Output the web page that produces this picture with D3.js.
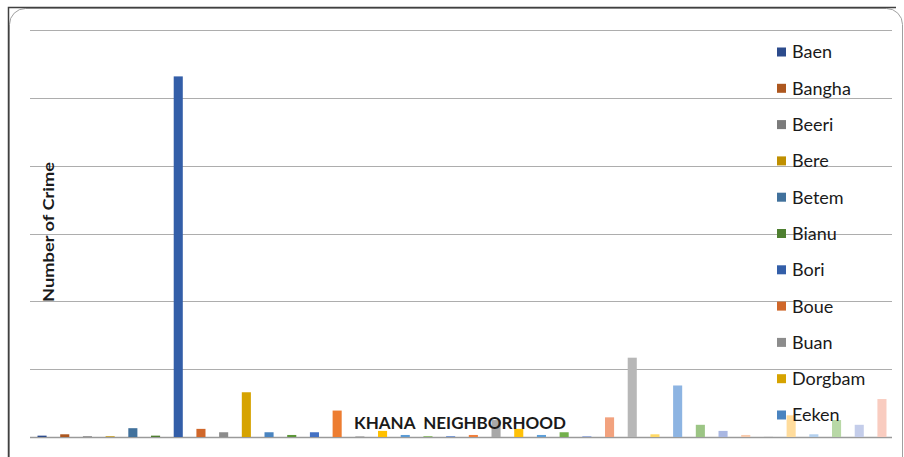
<!DOCTYPE html>
<html>
<head>
<meta charset="utf-8">
<script src="https://cdn.jsdelivr.net/npm/d3@7"></script>
<style>
  body { margin: 0; background: #fff; }
  text { font-family: Lato, "Open Sans", sans-serif; fill: #1a1a1a; }
</style>
</head>
<body>
<div class="chartBox"></div>
<script>
// neighbourhoods of Khana (only the first 11 names show in the legend)
var names = ['Baen', 'Bangha', 'Beeri', 'Bere', 'Betem', 'Bianu', 'Bori', 'Boue', 'Buan', 'Dorgbam', 'Eeken',
  'n12', 'n13', 'n14', 'n15', 'n16', 'n17', 'n18', 'n19', 'n20', 'n21', 'n22', 'n23', 'n24', 'n25',
  'n26', 'n27', 'n28', 'n29', 'n30', 'n31', 'n32', 'n33', 'n34', 'n35', 'n36', 'n37', 'n38'];

var crimes = [2, 4, 1, 1, 13, 2, 532, 12, 7, 66, 7, 3,
  7, 39, 1, 9, 3, 1, 1, 3, 25, 12, 3, 7,
  1, 29, 117, 4, 76, 18, 9, 3, 1, 32, 4, 25, 18, 56];

var colors = ['#2c4b8c', '#ad571f', '#7b7b7b', '#bf8f00', '#41719c', '#4e7f30',
  '#335ea8', '#d0672a', '#8c8c8c', '#d6a300', '#4a84c0', '#5c9638',
  '#4472c4', '#ed7d31', '#a5a5a5', '#ffc000', '#5b9bd5', '#70ad47',
  '#4a78c9', '#f07f3c', '#a8a8a8', '#ffc107', '#5e9fd8', '#74b04c',
  '#7c97d6', '#f2a27e', '#b7b7b7', '#ffd966', '#8db4e2', '#9cc585',
  '#a9b7e2', '#f8cbad', '#d9d9d9', '#ffdc9c', '#b3d0ee', '#b8d8a6',
  '#c4cdea', '#f9ccc0'];

var yTicks = [0, 100, 200, 300, 400, 500, 600];

var w = 904, h = 457;

var svg = d3.select('div.chartBox')
  .append('svg')
  .attr('width', w)
  .attr('height', h);

// frame
svg.append('rect')
  .attr('x', 9.5).attr('y', 8.5)
  .attr('width', 893).attr('height', 470)
  .attr('rx', 16)
  .attr('fill', 'none')
  .attr('stroke', '#a0a0a0');
svg.append('path')
  .attr('d', 'M8.5,458V7.5H896')
  .attr('fill', 'none')
  .attr('stroke', '#404040')
  .attr('stroke-width', 1.5);

var x = d3.scaleBand()
  .domain(names)
  .range([30.7, 893.3])
  .paddingInner(0.6)
  .paddingOuter(0.3);

var y = d3.scaleLinear()
  .domain([0, 600])
  .range([437, 30.3]);

// gridlines
svg.selectAll('line.grid')
  .data(yTicks)
  .enter()
  .append('line')
  .attr('class', 'grid')
  .attr('x1', 30)
  .attr('x2', 892)
  .attr('y1', function(d) { return Math.round(y(d)) + 0.5 })
  .attr('y2', function(d) { return Math.round(y(d)) + 0.5 })
  .attr('stroke', function(d) { return d === 0 ? '#9a9a9a' : '#adadad' })
  .attr('stroke-width', function(d) { return d === 0 ? 1.5 : 1 });

svg.selectAll('rect.bar')
  .data(crimes)
  .enter()
  .append('rect')
  .attr('class', 'bar')
  .attr('x', function(d, i) { return x(names[i]) })
  .attr('y', function(d) { return y(d) })
  .attr('width', x.bandwidth())
  .attr('height', function(d) { return y(0) - y(d) })
  .attr('fill', function(d, i) { return colors[i] });

// axis titles
svg.append('text')
  .attr('transform', 'translate(54,232) rotate(-90)')
  .attr('text-anchor', 'middle')
  .attr('textLength', 140)
  .attr('lengthAdjust', 'spacingAndGlyphs')
  .style('font-weight', 'bold')
  .style('font-size', '16px')
  .text('Number of Crime');

svg.append('text')
  .attr('x', 460)
  .attr('y', 429)
  .attr('text-anchor', 'middle')
  .style('font-weight', 'bold')
  .style('font-size', '17px')
  .style('white-space', 'pre')
  .text('KHANA  NEIGHBORHOOD');

// legend
var legend = svg.selectAll('g.legend')
  .data(names.slice(0, 11))
  .enter()
  .append('g')
  .attr('class', 'legend')
  .attr('transform', function(d, i) { return 'translate(777,' + (52 + i * 36.3) + ')' });

legend.append('rect')
  .attr('x', 0).attr('y', -4.5)
  .attr('width', 9).attr('height', 9)
  .attr('fill', function(d, i) { return colors[i] });

legend.append('text')
  .attr('x', 15)
  .attr('dy', '0.36em')
  .style('font-size', '18px')
  .text(function(d) { return d });
</script>
</body>
</html>
